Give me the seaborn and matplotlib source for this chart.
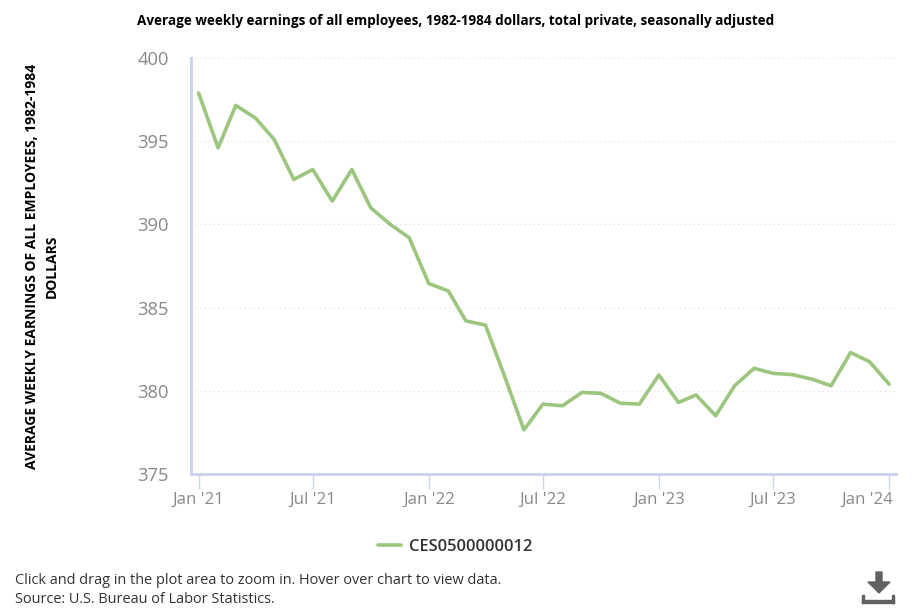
# System imports
import numpy as np
import pandas as pd
import matplotlib.pyplot as plt
from matplotlib.patches import Polygon, Rectangle
from matplotlib.transforms import ScaledTranslation
import seaborn as sns

# Chart data
months = pd.date_range('2021-01-01', '2024-01-01', freq='MS')
earnings = [397.9, 394.6, 397.15, 396.4, 395.1, 392.7, 393.3, 391.4, 393.3, 391.0, 390.0, 389.2,
            386.45, 386.0, 384.2, 383.95, 380.9, 377.65, 379.2, 379.1, 379.9, 379.85, 379.25, 379.2,
            380.95, 379.3, 379.75, 378.5, 380.3, 381.35, 381.05, 380.97, 380.7, 380.3, 382.3, 381.75,
            380.4]
series_name = 'CES0500000012'
y_ticks = [375, 380, 385, 390, 395, 400]
x_ticks = ['2021-01-01', '2021-07-01', '2022-01-01', '2022-07-01', '2023-01-01', '2023-07-01', '2024-01-01']
x_labels = ["Jan '21", "Jul '21", "Jan '22", "Jul '22", "Jan '23", "Jul '23", "Jan '24"]
title = 'Average weekly earnings of all employees, 1982-1984 dollars, total private, seasonally adjusted'
y_title = 'AVERAGE WEEKLY EARNINGS OF ALL EMPLOYEES, 1982-1984\nDOLLARS'
note = 'Click and drag in the plot area to zoom in. Hover over chart to view data.\nSource: U.S. Bureau of Labor Statistics.'

W, H = 916, 611

# Set up graphing options
sns.set_theme(style='white')
plt.rcParams['font.family'] = ['Open Sans', 'DejaVu Sans']
fig = plt.figure(figsize=(W / 100, H / 100), dpi=100)
ax = fig.add_axes([191 / W, (H - 474) / H, 705 / W, 416 / H])

# Plot data
df = pd.DataFrame({'month': months, 'earnings': earnings})
sns.lineplot(data=df, x='month', y='earnings', color='#9cc67e', linewidth=2.6, label=series_name, ax=ax)

# Axes
ax.set_xlim(pd.Timestamp('2020-12-20'), pd.Timestamp('2024-01-12'))
ax.set_ylim(375, 400)
ax.set_yticks(y_ticks)
ax.set_xticks(pd.to_datetime(x_ticks))
ax.set_xticklabels(x_labels)
ax.tick_params(axis='x', length=10.5, width=1, color='#ccd6eb', labelsize=12.2, labelcolor='#8a8a8a', pad=2, bottom=True)
ax.tick_params(axis='y', length=0, labelsize=13.2, labelcolor='#8a8a8a', pad=16)
ax.set_xlabel('')
ax.set_ylabel('')
ax.grid(axis='y', color='#dddddd', linestyle=(0, (1, 3)), linewidth=0.8)
for side in ['top', 'right']:
    ax.spines[side].set_visible(False)
for side in ['left', 'bottom']:
    ax.spines[side].set_color('#c9d2e8')
    ax.spines[side].set_linewidth(2)

# Last label is pulled back so it stays inside the chart
last_label = ax.get_xticklabels()[-1]
last_label.set_ha('right')
last_label.set_transform(last_label.get_transform() + ScaledTranslation(4 / 100, 0, fig.dpi_scale_trans))

# Titles
fig.text(137 / W, 1 - 21 / H, title, fontsize=9.75, fontweight='bold', color='black', ha='left', va='center')
fig.text(42 / W, 1 - 266 / H, y_title, fontsize=9.97, fontweight='bold', color='black', rotation=90,
         ha='center', va='center', multialignment='center', linespacing=1.5)

# Legend
ax.legend(loc='center', bbox_to_anchor=((455 - 191) / 705, (474 - 547) / 416), frameon=False,
          prop={'size': 11.9, 'weight': 'semibold'}, labelcolor='#333333', handlelength=1.4, handletextpad=0.45)

# Footer note
fig.text(15 / W, 1 - 590 / H, note, fontsize=10.45, color='#333333', ha='left', va='center', linespacing=1.4)

# Download icon
def px(x, y):
    return (x / W, 1 - y / H)

arrow = [px(876, 572), px(882, 572), px(882, 582), px(890, 582), px(879, 593), px(868, 582), px(876, 582)]
fig.add_artist(Polygon(arrow, closed=True, color='#616161', transform=fig.transFigure))
for x, y, w, h in [(862, 600, 32, 3), (862, 595, 2, 8), (892, 595, 2, 8)]:
    fig.add_artist(Rectangle(px(x, y + h), w / W, h / H, color='#616161', transform=fig.transFigure))

# Save to file
fig.savefig('out.png', dpi=100)
